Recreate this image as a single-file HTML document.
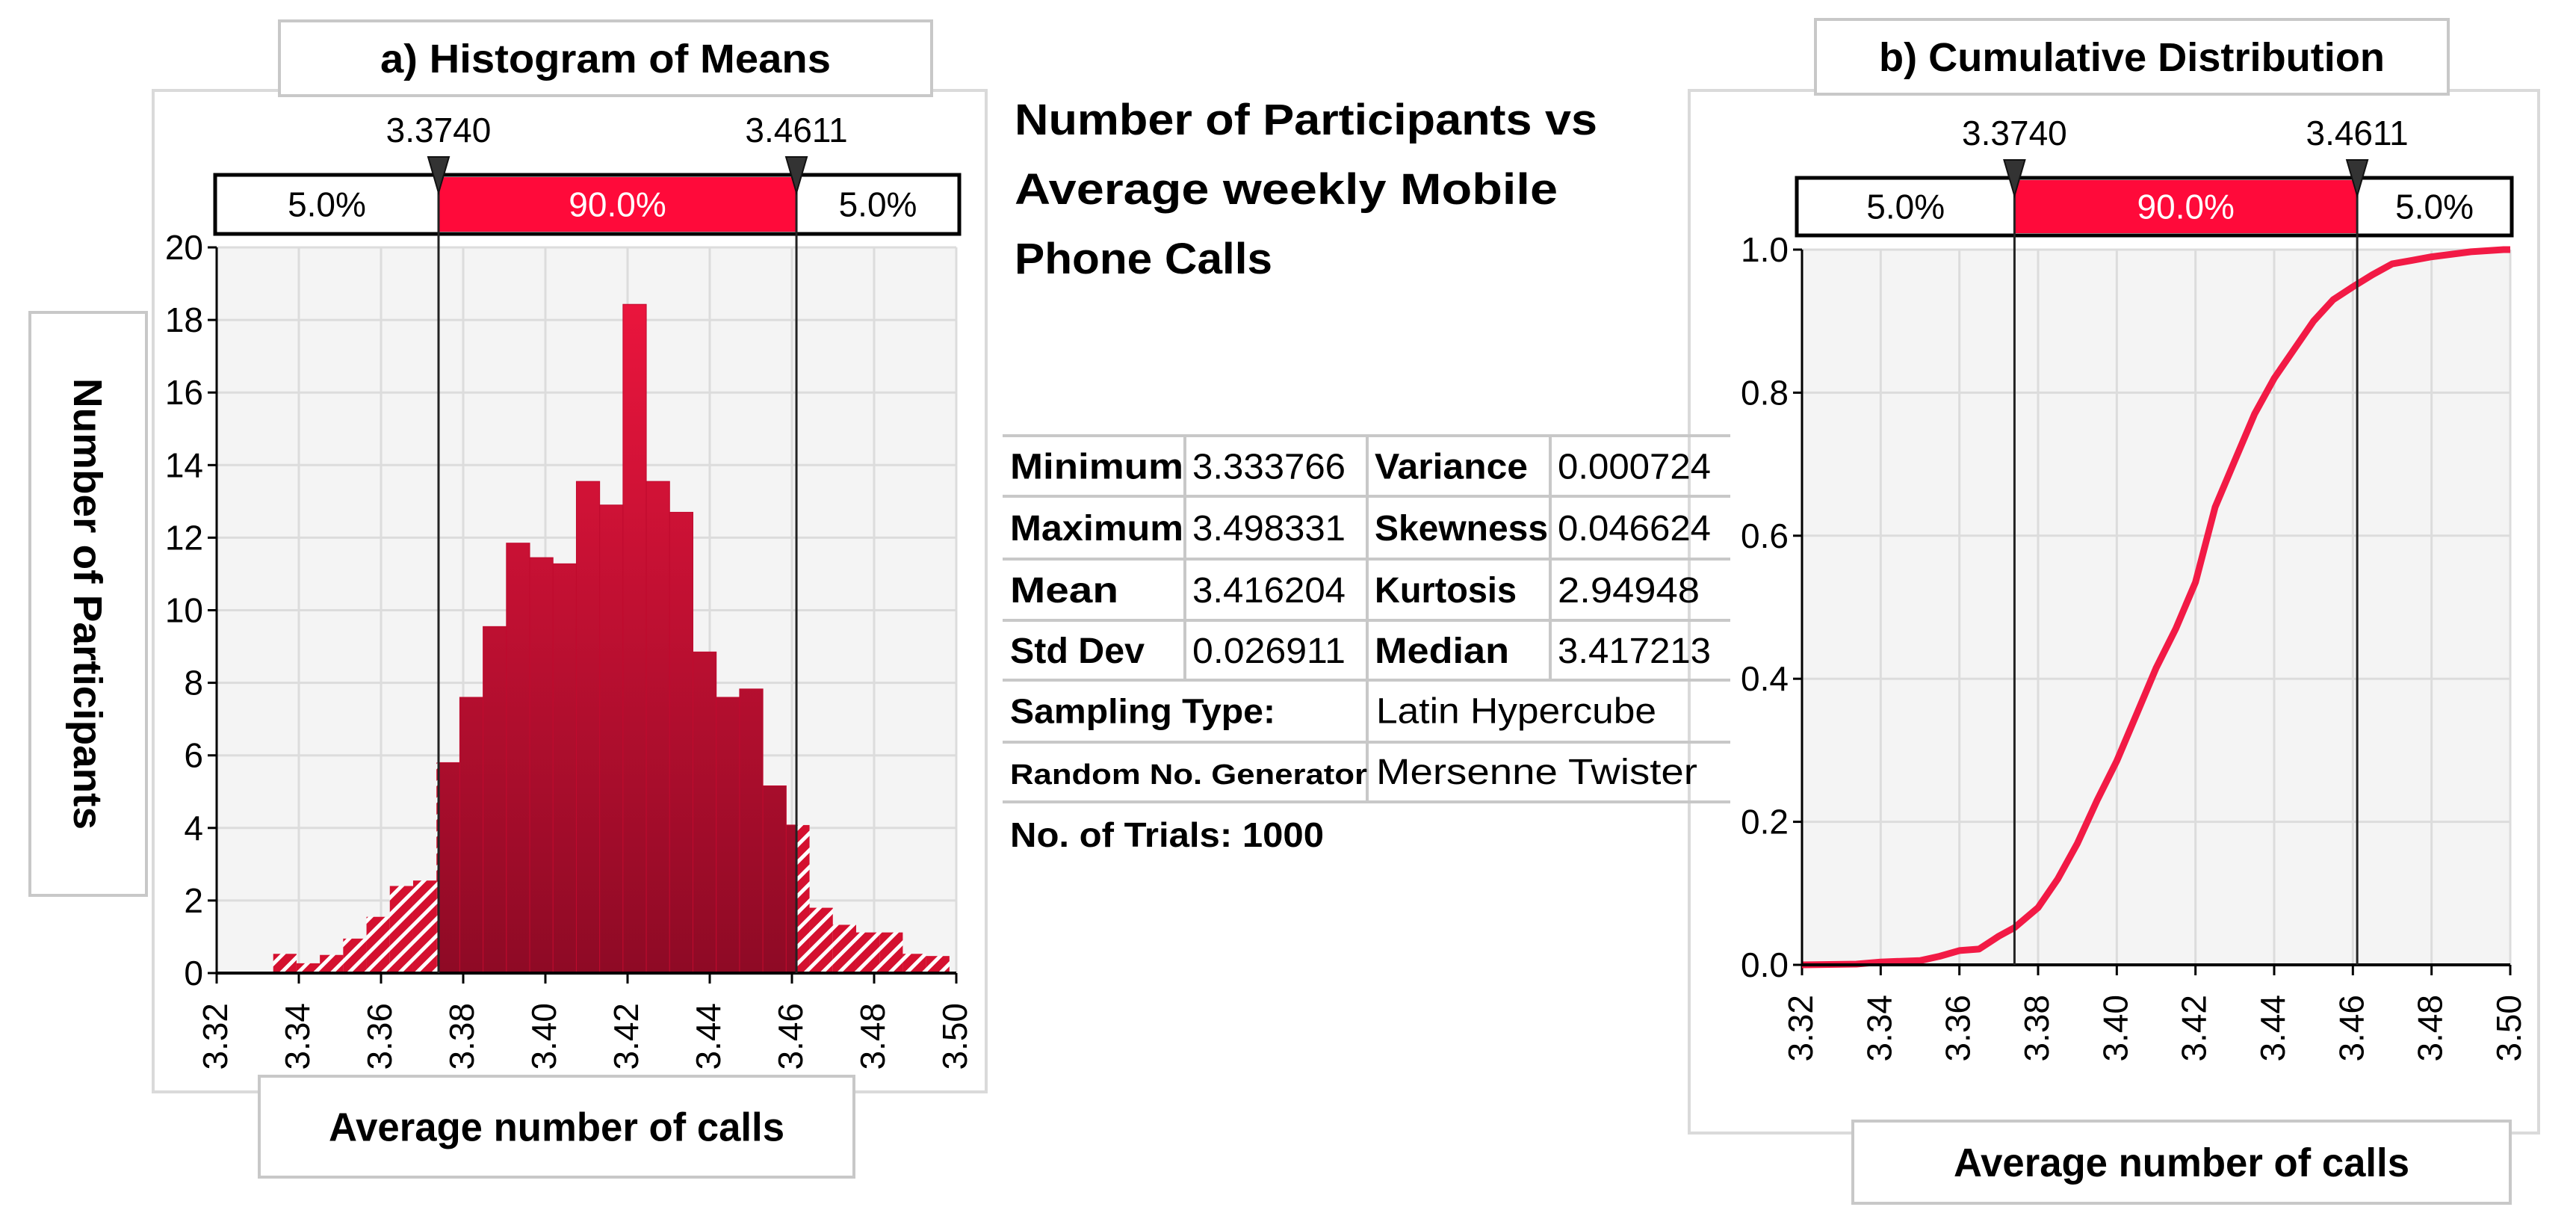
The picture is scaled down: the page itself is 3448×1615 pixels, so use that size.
<!DOCTYPE html>
<html><head><meta charset="utf-8"><style>
html,body{margin:0;padding:0;background:#fff;}
svg{display:block;}
.t{font-family:"Liberation Sans Narrow","Liberation Sans",sans-serif;}
.b{font-family:"Liberation Sans",sans-serif;font-weight:bold;}
</style></head><body>
<svg id="root" width="3448" height="1615" viewBox="0 0 3448 1615" xmlns="http://www.w3.org/2000/svg">
<defs>
<pattern id="hatch" patternUnits="userSpaceOnUse" width="16" height="16" patternTransform="rotate(45)">
<rect width="16" height="16" fill="#d4102f"/><rect width="5" height="16" fill="#ffffff"/>
</pattern>
<linearGradient id="barGrad" gradientUnits="userSpaceOnUse" x1="0" y1="330" x2="0" y2="1302">
<stop offset="0" stop-color="#f2163f"/><stop offset="1" stop-color="#8e0a25"/>
</linearGradient>
</defs>
<g id="left"></g>
<g id="right"></g>
<g id="mid"></g>
</svg>
<script>
// ---- data ----
const binMin = 3.333766;
const binMax = 3.498331;
const histCounts = [0.53,0.27,0.5,0.95,1.55,2.4,2.55,5.8,7.6,9.55,11.85,11.45,11.28,13.55,12.9,18.43,13.55,12.7,8.85,7.6,7.83,5.16,4.08,1.8,1.33,1.12,1.12,0.53,0.47];
const xTicks = [3.32,3.34,3.36,3.38,3.40,3.42,3.44,3.46,3.48,3.50];
const xTickLabels = ["3.32","3.34","3.36","3.38","3.40","3.42","3.44","3.46","3.48","3.50"];
const histYTicks = [0,2,4,6,8,10,12,14,16,18,20];
const cdfYTicks = [0,0.2,0.4,0.6,0.8,1.0];
const cdfYTickLabels = ["0.0","0.2","0.4","0.6","0.8","1.0"];
const cdfX = [3.32,3.3338,3.34,3.345,3.35,3.355,3.36,3.365,3.37,3.374,3.38,3.385,3.39,3.395,3.40,3.405,3.41,3.415,3.42,3.425,3.43,3.435,3.44,3.445,3.45,3.455,3.46,3.465,3.47,3.475,3.48,3.49,3.4983,3.50];
const cdfY = [0,0.001,0.004,0.005,0.006,0.012,0.02,0.022,0.04,0.052,0.08,0.12,0.17,0.23,0.285,0.35,0.415,0.47,0.535,0.64,0.705,0.77,0.82,0.86,0.90,0.93,0.948,0.965,0.98,0.985,0.99,0.997,1.0,1.0];
const pLow = 3.3740, pHigh = 3.4611;
const bandLabels = ["5.0%","90.0%","5.0%"];
const markerLabels = ["3.3740","3.4611"];

const NS="http://www.w3.org/2000/svg";
function mk(parent,tag,attrs,text){const e=document.createElementNS(NS,tag);for(const k in attrs)e.setAttribute(k,attrs[k]);if(text!==undefined)e.textContent=text;parent.appendChild(e);return e;}

function drawFrame(g,cfg){
  let e;
  e=mk(g,'rect',{x:cfg.ox,y:cfg.oy,width:cfg.ow,height:cfg.oh,fill:'#fff',stroke:'#dadada','stroke-width':4});
  
  e=mk(g,'rect',{x:cfg.tx,y:cfg.ty,width:cfg.tw,height:cfg.th,fill:'#fff',stroke:'#c8c8c8','stroke-width':4});
  
  e=mk(g,'text',{x:cfg.tx+cfg.tw/2,y:cfg.ty+cfg.th/2+19,'text-anchor':'middle','font-size':54,class:'b',textLength:cfg.titleLen,lengthAdjust:'spacingAndGlyphs'},cfg.title);
  
  const x=v=>cfg.x0+(v-3.32)/0.18*(cfg.x1-cfg.x0);
  const y=v=>cfg.yb-(v/cfg.ymax)*(cfg.yb-cfg.yt);
  e=mk(g,'rect',{x:cfg.x0,y:cfg.yt,width:cfg.x1-cfg.x0,height:cfg.yb-cfg.yt,fill:'#f4f4f4'});
  
  xTicks.forEach((t,i)=>{
    let l=mk(g,'line',{x1:x(t),x2:x(t),y1:cfg.yt,y2:cfg.yb,stroke:'#dcdcdc','stroke-width':3});
    
    let tk=mk(g,'line',{x1:x(t),x2:x(t),y1:cfg.yb,y2:cfg.yb+14,stroke:'#000','stroke-width':3});
    
    const tx=x(t)+14, ty=cfg.yb+40;
    let lb=mk(g,'text',{x:tx,y:ty,transform:`rotate(-90 ${tx} ${ty})`,'text-anchor':'end','font-size':46,class:'t'},xTickLabels[i]);
    
  });
  cfg.yticks.forEach((t,i)=>{
    let l=mk(g,'line',{x1:cfg.x0,x2:cfg.x1,y1:y(t),y2:y(t),stroke:'#dcdcdc','stroke-width':3});
    
    let tk=mk(g,'line',{x1:cfg.x0-12,x2:cfg.x0,y1:y(t),y2:y(t),stroke:'#000','stroke-width':3});
    
    let lb=mk(g,'text',{x:cfg.x0-18,y:y(t)+16,'text-anchor':'end','font-size':46,class:'t'},cfg.ylabels[i]);
    
  });
  return {x,y};
}
function drawOverlay(g,cfg,x){
  let e;
  const xl=x(pLow), xh=x(pHigh);
  e=mk(g,'line',{x1:cfg.x0,x2:cfg.x0,y1:cfg.yt,y2:cfg.yb,stroke:'#000','stroke-width':3});
  
  e=mk(g,'line',{x1:cfg.x0,x2:cfg.x1,y1:cfg.yb,y2:cfg.yb,stroke:'#000','stroke-width':4});
  
  e=mk(g,'rect',{x:cfg.bx0,y:cfg.by,width:cfg.bx1-cfg.bx0,height:cfg.bh,fill:'#fff',stroke:'#000','stroke-width':5});
  
  e=mk(g,'rect',{x:xl,y:cfg.by+3,width:xh-xl,height:cfg.bh-6,fill:'#ff0a3a'});
  
  const cy=cfg.by+cfg.bh/2+16;
  [[(cfg.bx0+xl)/2,'#000'],[(xl+xh)/2,'#fff'],[(xh+cfg.bx1)/2,'#000']].forEach((p,i)=>{
    let t=mk(g,'text',{x:p[0],y:cy,'text-anchor':'middle','font-size':46,fill:p[1],class:'t'},bandLabels[i]);
    
  });
  [xl,xh].forEach((xx,i)=>{
    let l=mk(g,'line',{x1:xx,x2:xx,y1:cfg.by,y2:cfg.yb,stroke:'#222','stroke-width':3});
    
    let tr=mk(g,'polygon',{points:`${xx-14},${cfg.by-24} ${xx+14},${cfg.by-24} ${xx},${cfg.by+24}`,fill:'#333',stroke:'#111','stroke-width':2});
    
    let t=mk(g,'text',{x:xx,y:cfg.by-44,'text-anchor':'middle','font-size':46,class:'t'},markerLabels[i]);
    
  });
  e=mk(g,'rect',{x:cfg.lx,y:cfg.ly,width:cfg.lw,height:cfg.lh,fill:'#fff',stroke:'#c8c8c8','stroke-width':4});
  
  e=mk(g,'text',{x:cfg.lx+cfg.lw/2,y:cfg.ly+cfg.lh/2+19,'text-anchor':'middle','font-size':54,class:'b',textLength:610,lengthAdjust:'spacingAndGlyphs'},'Average number of calls');
  
}

// ---- histogram ----
const L=document.getElementById('left');
const cL={ox:205,oy:121,ow:1115,oh:1340,tx:374,ty:28,tw:873,th:100,title:'a) Histogram of Means',titleLen:603,
  x0:290,x1:1280,yt:331,yb:1302,ymax:20,yticks:histYTicks,ylabels:histYTicks.map(String),
  bx0:288,bx1:1284,by:234,bh:79,lx:347,ly:1440,lw:796,lh:135};
const aL=drawFrame(L,cL);
const bw=(binMax-binMin)/histCounts.length;
histCounts.forEach((c,i)=>{
  const a=binMin+i*bw, b=a+bw;
  const segs=[[a,Math.min(b,pLow),'url(#hatch)'],[Math.max(a,pLow),Math.min(b,pHigh),'url(#barGrad)'],[Math.max(a,pHigh),b,'url(#hatch)']];
  segs.forEach(s=>{
    if(s[1]<=s[0])return;
    const r=mk(L,'rect',{x:aL.x(s[0]),y:aL.y(c),width:aL.x(s[1])-aL.x(s[0]),height:aL.y(0)-aL.y(c),fill:s[2],stroke:s[2]==='url(#barGrad)'?'#c00a2e':'none','stroke-width':1});
    
    
  });
});
drawOverlay(L,cL,aL.x);
let yb=mk(L,'rect',{x:40,y:418,width:156,height:780,fill:'#fff',stroke:'#c8c8c8','stroke-width':4});

let yt=mk(L,'text',{x:118,y:808,transform:'rotate(90 118 808)','text-anchor':'middle','font-size':54,class:'b',dy:19,textLength:604,lengthAdjust:'spacingAndGlyphs'},'Number  of Participants');


// ---- CDF ----
const R=document.getElementById('right');
const cR={ox:2261,oy:121,ow:1137,oh:1395,tx:2430,ty:26,tw:847,th:100,title:'b) Cumulative Distribution',titleLen:677,
  x0:2412,x1:3360,yt:334,yb:1291,ymax:1,yticks:cdfYTicks,ylabels:cdfYTickLabels,
  bx0:2405,bx1:3362,by:238,bh:77,lx:2480,ly:1500,lw:880,lh:110};
const aR=drawFrame(R,cR);
const pts=cdfX.map((v,i)=>aR.x(v).toFixed(1)+','+aR.y(cdfY[i]).toFixed(1)).join(' ');
const curve=mk(R,'polyline',{points:pts,fill:'none',stroke:'#f21a45','stroke-width':9,'stroke-linejoin':'round'});


drawOverlay(R,cR,aR.x);

// ---- middle ----
const M=document.getElementById('mid');
[['Number of Participants vs',780],['Average weekly  Mobile',727],['Phone Calls',345]].forEach((s,i)=>{
  let t=mk(M,'text',{x:1358,y:180+i*93,'font-size':58,class:'b',textLength:s[1],lengthAdjust:'spacingAndGlyphs'},s[0]);
  
});
const rowsY=[583,664,748,830,910,993,1073];
const cols=[1342,1586,1830,2075,2316];
const cells=[["Minimum","3.333766","Variance","0.000724"],["Maximum","3.498331","Skewness","0.046624"],["Mean","3.416204","Kurtosis","2.94948"],["Std Dev","0.026911","Median","3.417213"]];
const labelLens=[[232,205],[232,232],[145,190],[180,180]];
rowsY.forEach((yy,i)=>{let l=mk(M,'line',{x1:cols[0],x2:cols[4],y1:yy,y2:yy,stroke:'#c8c8c8','stroke-width':4});});
for(let r=0;r<4;r++){
  [1,2,3].forEach(c=>{let l=mk(M,'line',{x1:cols[c],x2:cols[c],y1:rowsY[r],y2:rowsY[r+1],stroke:'#c8c8c8','stroke-width':4});});
  cells[r].forEach((s,c)=>{
    const len=c%2===0?labelLens[r][c/2]:(s.length===7?190:205);
    let t=mk(M,'text',{x:cols[c]+10,y:(rowsY[r]+rowsY[r+1])/2+17,'font-size':48,class:c%2===0?'b':'t',textLength:len,lengthAdjust:'spacingAndGlyphs'},s);
    
  });
}
[4,5].forEach(r=>{let l=mk(M,'line',{x1:1830,x2:1830,y1:rowsY[r],y2:rowsY[r+1],stroke:'#c8c8c8','stroke-width':4});});
const extra=[["Sampling Type:","Latin Hypercube",46,355,375],["Random No. Generator","Mersenne Twister",38,478,430]];
extra.forEach((e,i)=>{
  const cy=(rowsY[4+i]+rowsY[5+i])/2+16;
  let a=mk(M,'text',{x:1352,y:cy,'font-size':e[2],class:'b',textLength:e[3],lengthAdjust:'spacingAndGlyphs'},e[0]);
  
  let b=mk(M,'text',{x:1842,y:cy,'font-size':48,class:'t',textLength:e[4],lengthAdjust:'spacingAndGlyphs'},e[1]);
  
});
let tr=mk(M,'text',{x:1352,y:1133,'font-size':46,class:'b',textLength:420,lengthAdjust:'spacingAndGlyphs'},'No. of Trials: 1000');

</script>
</body></html>
